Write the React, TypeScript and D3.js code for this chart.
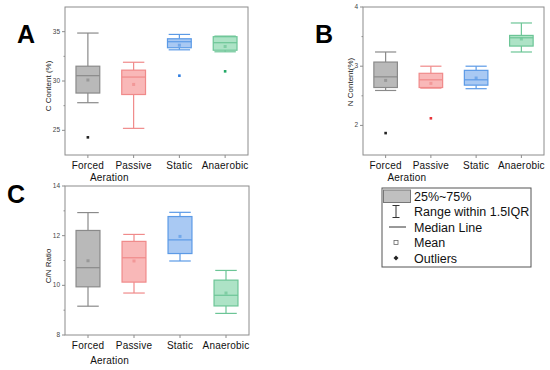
import React from "react";
import * as d3 from "d3";

const categories = ["Forced", "Passive", "Static", "Anaerobic"];
const strokeColors = ["#8a8a8a", "#f08a8a", "#5b9ae6", "#6cc596"];
const fillColors = ["#b9b9b9", "#f9b8b8", "#a9c9f3", "#ade3c6"];
const outlierColors = ["#222222", "#e8353a", "#2f7de0", "#22a866"];

// Panel A: C Content (%)
const cWhiskLow = [27.8, 25.2, 33.16, 32.96];
const cQ1 = [28.78, 28.63, 33.37, 33.12];
const cMedian = [30.54, 30.4, 33.98, 33.88];
const cQ3 = [31.5, 31.1, 34.28, 34.49];
const cWhiskHigh = [34.86, 31.9, 34.72, 34.55];
const cMean = [30.1, 29.65, 33.63, 33.5];
const cOutliers: (number | null)[] = [24.29, null, 30.54, 30.98];

// Panel B: N Content (%)
const nWhiskLow = [2.59, 2.63, 2.62, 3.24];
const nQ1 = [2.64, 2.64, 2.68, 3.34];
const nMedian = [2.82, 2.77, 2.77, 3.48];
const nQ3 = [3.07, 2.88, 2.93, 3.52];
const nWhiskHigh = [3.24, 3.0, 3.0, 3.73];
const nMean = [2.76, 2.71, 2.8, 3.46];
const nOutliers: (number | null)[] = [1.87, 2.12, null, null];

// Panel C: C/N Ratio
const rWhiskLow = [9.16, 9.69, 10.98, 8.87];
const rQ1 = [9.94, 10.13, 11.28, 9.17];
const rMedian = [10.71, 11.11, 11.83, 9.6];
const rQ3 = [12.21, 11.77, 12.77, 10.21];
const rWhiskHigh = [12.93, 12.05, 12.94, 10.6];
const rMean = [10.99, 10.98, 11.97, 9.69];
const rOutliers: (number | null)[] = [null, null, null, null];

const legendItems = ["25%~75%", "Range within 1.5IQR", "Median Line", "Mean", "Outliers"];

const FONT = "Arial, 'Liberation Sans', sans-serif";

type PanelProps = {
  x0: number; x1: number; y0: number; y1: number;
  domain: [number, number];
  ticks: number[];
  minor: number[];
  lo: number[]; q1: number[]; med: number[]; q3: number[]; hi: number[]; mean: number[];
  out: (number | null)[];
  yTitle: string; yTitleX: number; yTitleY: number;
  letter: string; letterX: number; letterY: number;
  line1Y: number; line2Y: number;
};

function Panel(p: PanelProps) {
  const y = d3.scaleLinear().domain(p.domain).range([p.y1, p.y0]);
  const x = d3.scalePoint<string>().domain(categories).range([p.x0, p.x1]).padding(0.5);
  const step = x.step();
  const bw = step * 0.52;
  const cw = bw * 0.45;
  return (
    <g>
      <text x={p.letterX} y={p.letterY} fontFamily={FONT} fontWeight="bold" fontSize={25} fill="#000">{p.letter}</text>
      <rect x={p.x0} y={p.y0} width={p.x1 - p.x0} height={p.y1 - p.y0} fill="none" stroke="#8c8c8c" strokeWidth={1} />
      {p.ticks.map((t) => (
        <g key={"t" + t}>
          <line x1={p.x0 - 3} x2={p.x0} y1={y(t)} y2={y(t)} stroke="#8c8c8c" />
          <text x={p.x0 - 5} y={y(t) + 2} fontFamily={FONT} fontSize={6.5} fill="#444" textAnchor="end">{t}</text>
        </g>
      ))}
      {p.minor.map((t) => (
        <line key={"m" + t} x1={p.x0 - 1.5} x2={p.x0} y1={y(t)} y2={y(t)} stroke="#8c8c8c" />
      ))}
      <text transform={`translate(${p.yTitleX},${p.yTitleY}) rotate(-90)`} fontFamily={FONT} fontSize={8} fill="#222" textAnchor="middle">{p.yTitle}</text>
      {categories.map((c, i) => {
        const cx = x(c)!;
        const sc = strokeColors[i];
        return (
          <g key={c}>
            <line x1={cx} x2={cx} y1={p.y1} y2={p.y1 + 3} stroke="#8c8c8c" />
            <line x1={cx} x2={cx} y1={y(p.hi[i])} y2={y(p.q3[i])} stroke={sc} strokeWidth={1.2} />
            <line x1={cx} x2={cx} y1={y(p.q1[i])} y2={y(p.lo[i])} stroke={sc} strokeWidth={1.2} />
            <line x1={cx - cw} x2={cx + cw} y1={y(p.hi[i])} y2={y(p.hi[i])} stroke={sc} strokeWidth={1.2} />
            <line x1={cx - cw} x2={cx + cw} y1={y(p.lo[i])} y2={y(p.lo[i])} stroke={sc} strokeWidth={1.2} />
            <rect x={cx - bw / 2} y={y(p.q3[i])} width={bw} height={y(p.q1[i]) - y(p.q3[i])} fill={fillColors[i]} stroke={sc} strokeWidth={1.2} />
            <line x1={cx - bw / 2} x2={cx + bw / 2} y1={y(p.med[i])} y2={y(p.med[i])} stroke={sc} strokeWidth={1.2} />
            <rect x={cx - 1.5} y={y(p.mean[i]) - 1.5} width={3} height={3} fill={sc} opacity={0.7} />
            {p.out[i] !== null && (
              <rect x={cx - 1.3} y={y(p.out[i] as number) - 1.3} width={2.6} height={2.6} fill={outlierColors[i]} />
            )}
            <text x={cx} y={p.line1Y} fontFamily={FONT} fontSize={10} fill="#111" textAnchor="middle" letterSpacing={0.2}>{c}</text>
          </g>
        );
      })}
      <text x={x(categories[0])! + step * 0.47} y={p.line2Y} fontFamily={FONT} fontSize={10} fill="#111" textAnchor="middle" letterSpacing={0.2}>Aeration</text>
    </g>
  );
}

function Legend() {
  const lx = 382, ly = 188, lw = 149, lh = 79;
  const rowY = (i: number) => ly + 8 + i * 15.5;
  const ix = 396;
  return (
    <g fontFamily={FONT}>
      <rect x={lx} y={ly} width={lw} height={lh} fill="#fff" stroke="#555" strokeWidth={1} />
      <rect x={383.5} y={190} width={27} height={12.5} fill="#c0c0c0" stroke="#777" strokeWidth={1} />
      <line x1={ix} x2={ix} y1={rowY(1) - 6} y2={rowY(1) + 6} stroke="#333" />
      <line x1={ix - 3.5} x2={ix + 3.5} y1={rowY(1) - 6} y2={rowY(1) - 6} stroke="#333" />
      <line x1={ix - 3.5} x2={ix + 3.5} y1={rowY(1) + 6} y2={rowY(1) + 6} stroke="#333" />
      <line x1={389} x2={406} y1={rowY(2)} y2={rowY(2)} stroke="#333" />
      <rect x={ix - 2} y={rowY(3) - 2} width={4} height={4} fill="#fff" stroke="#666" strokeWidth={0.8} />
      <path d={`M${ix},${rowY(4) - 2.5} L${ix + 2.5},${rowY(4)} L${ix},${rowY(4) + 2.5} L${ix - 2.5},${rowY(4)} Z`} fill="#222" />
      {legendItems.map((t, i) => (
        <text key={t} x={414} y={rowY(i) + 4.5} fontSize={12.5} fill="#111">{t}</text>
      ))}
    </g>
  );
}

export default function App() {
  return (
    <svg width={550} height={370} style={{ position: "absolute", left: 0, top: 0, background: "#fff" }}>
      <rect width={550} height={370} fill="#fff" />
      <Panel x0={65} x1={248} y0={7} y1={155} domain={[22.5, 37.5]} ticks={[25, 30, 35]} minor={[27.5, 32.5]}
        lo={cWhiskLow} q1={cQ1} med={cMedian} q3={cQ3} hi={cWhiskHigh} mean={cMean} out={cOutliers}
        yTitle="C Content (%)" yTitleX={51} yTitleY={86} letter="A" letterX={17} letterY={43} line1Y={169} line2Y={181} />
      <Panel x0={363} x1={544} y0={7} y1={155} domain={[1.5, 4]} ticks={[2, 3, 4]} minor={[2.5, 3.5]}
        lo={nWhiskLow} q1={nQ1} med={nMedian} q3={nQ3} hi={nWhiskHigh} mean={nMean} out={nOutliers}
        yTitle="N Content(%)" yTitleX={353} yTitleY={82} letter="B" letterX={315} letterY={43} line1Y={169} line2Y={181} />
      <Panel x0={65} x1={249} y0={186} y1={335} domain={[8, 14]} ticks={[8, 10, 12, 14]} minor={[9, 11, 13]}
        lo={rWhiskLow} q1={rQ1} med={rMedian} q3={rQ3} hi={rWhiskHigh} mean={rMean} out={rOutliers}
        yTitle="C/N Ratio" yTitleX={51} yTitleY={266} letter="C" letterX={7} letterY={203} line1Y={349} line2Y={364} />
      <Legend />
    </svg>
  );
}
